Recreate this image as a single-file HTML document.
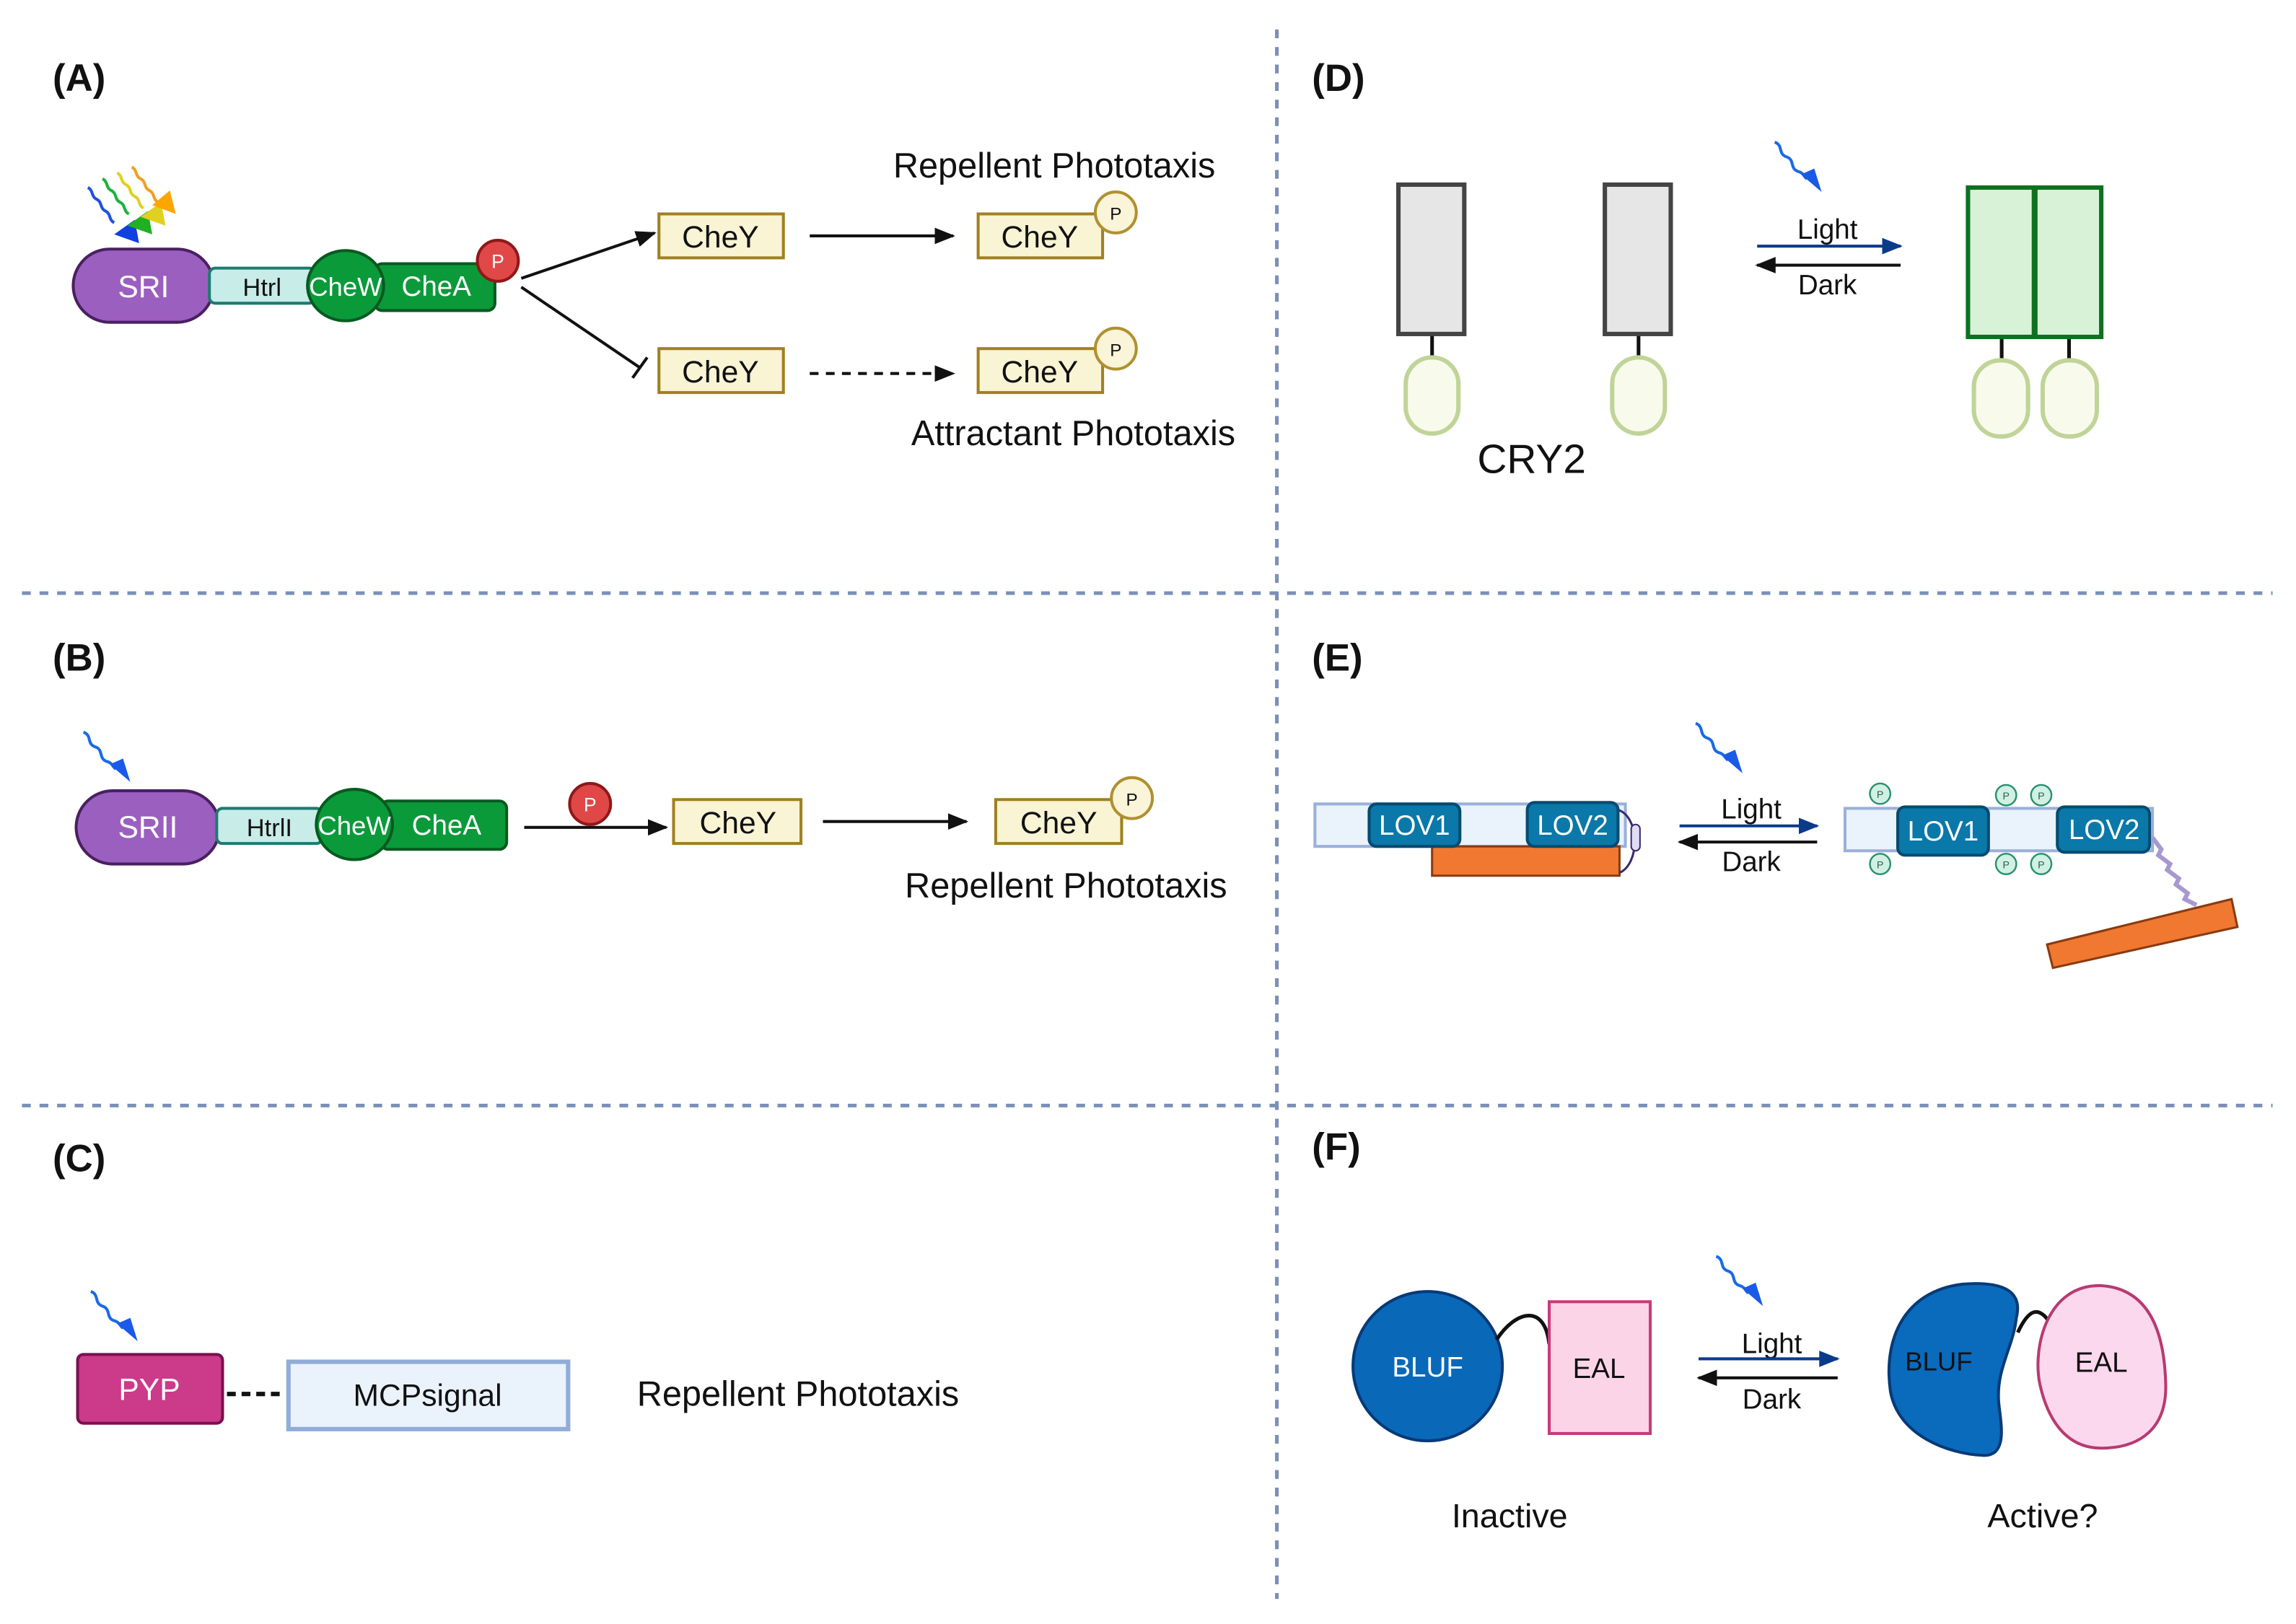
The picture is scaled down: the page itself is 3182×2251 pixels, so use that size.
<!DOCTYPE html>
<html><head><meta charset="utf-8"><style>
html,body{margin:0;padding:0;background:#fff;}
svg{display:block;}
text{font-family:"Liberation Sans",sans-serif;}
</style></head><body>
<svg width="3182" height="2251" viewBox="0 0 1568 1109" xmlns="http://www.w3.org/2000/svg">
<defs>
<marker id="ah" viewBox="0 0 10 10" refX="9" refY="5" markerWidth="7" markerHeight="7" orient="auto-start-reverse"><path d="M0,1 L10,5 L0,9 z" fill="#111"/></marker>
<marker id="ahb" viewBox="0 0 10 10" refX="9" refY="5" markerWidth="7" markerHeight="7" orient="auto-start-reverse"><path d="M0,1 L10,5 L0,9 z" fill="#0a3a8a"/></marker>
<g id="wave">
<path d="M0,0 C6,2 2,8 8,10 C14,12 10,18 16,20 C20,21 20,24 22,25" fill="none" stroke="#1a6ae8" stroke-width="2"/>
<polygon points="18,22 32,34 27,18" fill="#1a5ae8"/>
</g>
</defs>

<!-- dividers -->
<g stroke="#7a90b8" stroke-width="2.5" stroke-dasharray="6,6">
<line x1="872" y1="20" x2="872" y2="1092"/>
<line x1="15" y1="405" x2="1552" y2="405"/>
<line x1="15" y1="755" x2="1552" y2="755"/>
</g>

<g font-weight="bold" font-size="26" fill="#111">
<text x="36" y="62">(A)</text><text x="896" y="62">(D)</text>
<text x="36" y="458">(B)</text><text x="896" y="458">(E)</text>
<text x="36" y="800">(C)</text><text x="896" y="792">(F)</text>
</g>

<!-- Panel A -->
<g fill="none" stroke-width="2">
<path d="M60,128 c4,2 2,6 6,8 c4,2 2,6 6,8 c4,2 2,6 6,8" stroke="#2050e0"/>
<path d="M70,122 c4,2 2,6 6,8 c4,2 2,6 6,8 c4,2 2,6 6,8" stroke="#20b040"/>
<path d="M80,118 c4,2 2,6 6,8 c4,2 2,6 6,8 c4,2 2,6 6,8" stroke="#e0d020"/>
<path d="M90,114 c4,2 2,6 6,8 c4,2 2,6 6,8 c4,2 2,6 6,8" stroke="#f0a020"/>
</g>
<polygon points="78,160 95,166 92,150" fill="#1040e0"/>
<polygon points="87,154 104,160 101,144" fill="#20b020"/>
<polygon points="96,148 113,154 110,138" fill="#e0d020"/>
<polygon points="104,140 120,146 116,130" fill="#ffa500"/>

<rect x="50" y="170" width="96" height="50" rx="25" fill="#9b5fc0" stroke="#4a2060" stroke-width="2"/>
<text x="98" y="203" font-size="21" fill="#fff" text-anchor="middle">SRI</text>
<rect x="143" y="183" width="72" height="24" rx="4" fill="#c8ece8" stroke="#1e7a70" stroke-width="2"/>
<text x="179" y="202" font-size="17" fill="#111" text-anchor="middle">Htrl</text>
<rect x="256" y="180" width="82" height="32" rx="5" fill="#0b9a3a" stroke="#065a20" stroke-width="2"/>
<text x="298" y="202" font-size="19" fill="#fff" text-anchor="middle">CheA</text>
<ellipse cx="236" cy="195" rx="26" ry="24" fill="#0b9a3a" stroke="#065a20" stroke-width="2"/>
<text x="236" y="202" font-size="18" fill="#fff" text-anchor="middle">CheW</text>
<circle cx="340" cy="178" r="14" fill="#e04848" stroke="#901818" stroke-width="2"/>
<text x="340" y="183" font-size="13" fill="#fff" text-anchor="middle">P</text>

<line x1="356" y1="190" x2="447" y2="159" stroke="#111" stroke-width="2" marker-end="url(#ah)"/>
<line x1="356" y1="196" x2="437" y2="251" stroke="#111" stroke-width="2"/>
<line x1="432" y1="258" x2="442" y2="244" stroke="#111" stroke-width="2"/>
<line x1="553" y1="161" x2="651" y2="161" stroke="#111" stroke-width="2" marker-end="url(#ah)"/>
<line x1="553" y1="255" x2="651" y2="255" stroke="#111" stroke-width="2" stroke-dasharray="6,5" marker-end="url(#ah)"/>

<g fill="#f8f4d4" stroke="#a08020" stroke-width="2">
<rect x="450" y="146" width="85" height="30"/><rect x="668" y="146" width="85" height="30"/>
<rect x="450" y="238" width="85" height="30"/><rect x="668" y="238" width="85" height="30"/>
<rect x="460" y="546" width="87" height="30"/><rect x="680" y="546" width="86" height="30"/>
</g>
<g font-size="21" fill="#111" text-anchor="middle">
<text x="492" y="169">CheY</text><text x="710" y="169">CheY</text>
<text x="492" y="261">CheY</text><text x="710" y="261">CheY</text>
<text x="504" y="569">CheY</text><text x="723" y="569">CheY</text>
</g>
<g fill="#faf4d8" stroke="#b09030" stroke-width="2">
<circle cx="762" cy="145" r="14"/><circle cx="762" cy="238" r="14"/><circle cx="773" cy="545" r="14"/>
</g>
<g font-size="12" fill="#111" text-anchor="middle">
<text x="762" y="150">P</text><text x="762" y="243">P</text><text x="773" y="550">P</text>
</g>
<g font-size="24" fill="#111" text-anchor="middle">
<text x="720" y="121">Repellent Phototaxis</text>
<text x="733" y="304">Attractant Phototaxis</text>
<text x="728" y="613">Repellent Phototaxis</text>
<text x="545" y="960">Repellent Phototaxis</text>
</g>

<!-- Panel D -->
<use href="#wave" x="1212" y="97"/>
<g stroke="#111" stroke-width="2.5">
<line x1="978" y1="228" x2="978" y2="244"/><line x1="1119" y1="228" x2="1119" y2="244"/>
<line x1="1367" y1="230" x2="1367" y2="246"/><line x1="1413" y1="230" x2="1413" y2="246"/>
</g>
<rect x="955" y="126" width="45" height="102" fill="#e6e6e6" stroke="#444" stroke-width="3"/>
<rect x="1096" y="126" width="45" height="102" fill="#e6e6e6" stroke="#444" stroke-width="3"/>
<rect x="1344" y="128" width="45" height="102" fill="#d8f2d8" stroke="#107020" stroke-width="3"/>
<rect x="1390" y="128" width="45" height="102" fill="#d8f2d8" stroke="#107020" stroke-width="3"/>
<g fill="#f8fbec" stroke="#c0d498" stroke-width="3">
<rect x="960" y="244" width="36" height="52" rx="18"/><rect x="1101" y="244" width="36" height="52" rx="18"/>
<rect x="1348" y="246" width="37" height="52" rx="18"/><rect x="1395" y="246" width="37" height="52" rx="18"/>
</g>
<text x="1046" y="323" font-size="28" fill="#111" text-anchor="middle">CRY2</text>
<line x1="1200" y1="168" x2="1298" y2="168" stroke="#0a3a8a" stroke-width="2" marker-end="url(#ahb)"/>
<line x1="1298" y1="181" x2="1200" y2="181" stroke="#111" stroke-width="2" marker-end="url(#ah)"/>
<g font-size="19" fill="#111" text-anchor="middle">
<text x="1248" y="163">Light</text><text x="1248" y="201">Dark</text>
<text x="1196" y="559">Light</text><text x="1196" y="595">Dark</text>
<text x="1210" y="924">Light</text><text x="1210" y="962">Dark</text>
</g>

<!-- Panel B -->
<use href="#wave" x="57" y="500"/>
<rect x="52" y="540" width="98" height="50" rx="25" fill="#9b5fc0" stroke="#4a2060" stroke-width="2"/>
<text x="101" y="572" font-size="21" fill="#fff" text-anchor="middle">SRII</text>
<rect x="148" y="552" width="72" height="24" rx="4" fill="#c8ece8" stroke="#1e7a70" stroke-width="2"/>
<text x="184" y="571" font-size="17" fill="#111" text-anchor="middle">HtrlI</text>
<rect x="260" y="547" width="86" height="33" rx="5" fill="#0b9a3a" stroke="#065a20" stroke-width="2"/>
<text x="305" y="570" font-size="19" fill="#fff" text-anchor="middle">CheA</text>
<ellipse cx="242" cy="563" rx="26" ry="24" fill="#0b9a3a" stroke="#065a20" stroke-width="2"/>
<text x="242" y="570" font-size="18" fill="#fff" text-anchor="middle">CheW</text>
<circle cx="403" cy="549" r="14" fill="#e04848" stroke="#901818" stroke-width="2"/>
<text x="403" y="554" font-size="13" fill="#fff" text-anchor="middle">P</text>
<line x1="358" y1="565" x2="455" y2="565" stroke="#111" stroke-width="2" marker-end="url(#ah)"/>
<line x1="562" y1="561" x2="660" y2="561" stroke="#111" stroke-width="2" marker-end="url(#ah)"/>

<!-- Panel C -->
<use href="#wave" x="62" y="882"/>
<rect x="53" y="925" width="99" height="47" rx="4" fill="#cc3a8a" stroke="#7a1050" stroke-width="2"/>
<text x="102" y="956" font-size="21" fill="#fff" text-anchor="middle">PYP</text>
<line x1="155" y1="952" x2="195" y2="952" stroke="#111" stroke-width="3" stroke-dasharray="6,4"/>
<rect x="197" y="930" width="191" height="46" fill="#eaf2fc" stroke="#90acd8" stroke-width="3"/>
<text x="292" y="960" font-size="21" fill="#111" text-anchor="middle">MCPsignal</text>

<!-- Panel E -->
<use href="#wave" x="1158" y="494"/>
<rect x="898" y="549" width="212" height="29" fill="#eaf2fc" stroke="#9ab0d8" stroke-width="2"/>
<rect x="978" y="578" width="128" height="20" fill="#f07830" stroke="#8a3a10" stroke-width="1.5"/>
<path d="M1105,553 C1120,558 1120,590 1106,596" fill="none" stroke="#3a2a70" stroke-width="1.5"/>
<rect x="1114" y="563" width="6" height="18" rx="3" fill="#e0dcf4" stroke="#3a2a70"/>
<rect x="935" y="549" width="62" height="29" rx="5" fill="#0a78a8" stroke="#064a70" stroke-width="2"/>
<rect x="1043" y="548" width="62" height="30" rx="5" fill="#0a78a8" stroke="#064a70" stroke-width="2"/>
<text x="966" y="570" font-size="19" fill="#fff" text-anchor="middle">LOV1</text>
<text x="1074" y="570" font-size="19" fill="#fff" text-anchor="middle">LOV2</text>
<line x1="1147" y1="564" x2="1241" y2="564" stroke="#0a3a8a" stroke-width="2" marker-end="url(#ahb)"/>
<line x1="1241" y1="575" x2="1147" y2="575" stroke="#111" stroke-width="2" marker-end="url(#ah)"/>
<rect x="1260" y="552" width="210" height="29" fill="#eaf2fc" stroke="#9ab0d8" stroke-width="2"/>
<rect x="1296" y="551" width="62" height="33" rx="5" fill="#0a78a8" stroke="#064a70" stroke-width="2"/>
<rect x="1405" y="551" width="63" height="31" rx="5" fill="#0a78a8" stroke="#064a70" stroke-width="2"/>
<text x="1327" y="574" font-size="19" fill="#fff" text-anchor="middle">LOV1</text>
<text x="1437" y="573" font-size="19" fill="#fff" text-anchor="middle">LOV2</text>
<g fill="#d0f0e4" stroke="#2a9070" stroke-width="1.2">
<circle cx="1284" cy="542" r="7"/><circle cx="1370" cy="543" r="7"/><circle cx="1394" cy="543" r="7"/>
<circle cx="1284" cy="590" r="7"/><circle cx="1370" cy="590" r="7"/><circle cx="1394" cy="590" r="7"/>
</g>
<g font-size="7" fill="#2a6050" text-anchor="middle">
<text x="1284" y="545">P</text><text x="1370" y="546">P</text><text x="1394" y="546">P</text>
<text x="1284" y="593">P</text><text x="1370" y="593">P</text><text x="1394" y="593">P</text>
</g>
<path d="M1470,572 l6,8 l-2,4 l8,6 l-2,4 l8,6 l-2,4 l8,6 l-2,4 l8,4" fill="none" stroke="#a898d0" stroke-width="3"/>
<polygon points="1398,645 1524,614 1528,633 1402,661" fill="#f07830" stroke="#8a3a10" stroke-width="1.5"/>

<!-- Panel F -->
<use href="#wave" x="1172" y="858"/>
<circle cx="975" cy="933" r="51" fill="#0a68b8" stroke="#063a78" stroke-width="2"/>
<text x="975" y="940" font-size="19" fill="#fff" text-anchor="middle">BLUF</text>
<path d="M1022,915 C1035,895 1055,890 1058,918" fill="none" stroke="#111" stroke-width="2.5"/>
<rect x="1058" y="889" width="69" height="90" fill="#fcd4e8" stroke="#c83a7a" stroke-width="2"/>
<text x="1092" y="941" font-size="19" fill="#111" text-anchor="middle">EAL</text>
<line x1="1160" y1="928" x2="1255" y2="928" stroke="#0a3a8a" stroke-width="2" marker-end="url(#ahb)"/>
<line x1="1255" y1="941" x2="1160" y2="941" stroke="#111" stroke-width="2" marker-end="url(#ah)"/>
<path d="M1377,900 C1382,880 1365,875 1340,877 C1300,882 1286,915 1291,950 C1296,980 1330,993 1355,994 C1372,994 1366,970 1365,958 C1363,935 1375,920 1377,900 Z" fill="#0a6abc" stroke="#063a78" stroke-width="2"/>
<path d="M1378,910 C1385,895 1392,890 1401,905" fill="none" stroke="#111" stroke-width="2.5"/>
<path d="M1435,878 C1465,880 1478,905 1479,945 C1480,975 1462,989 1435,989 C1410,989 1398,968 1393,945 C1388,920 1398,877 1435,878 Z" fill="#fcd8ee" stroke="#b83a70" stroke-width="2"/>
<text x="1324" y="936" font-size="18" fill="#111" text-anchor="middle">BLUF</text>
<text x="1435" y="937" font-size="19" fill="#111" text-anchor="middle">EAL</text>
<text x="1031" y="1043" font-size="23" fill="#111" text-anchor="middle">Inactive</text>
<text x="1395" y="1043" font-size="23" fill="#111" text-anchor="middle">Active?</text>
</svg>
</body></html>
